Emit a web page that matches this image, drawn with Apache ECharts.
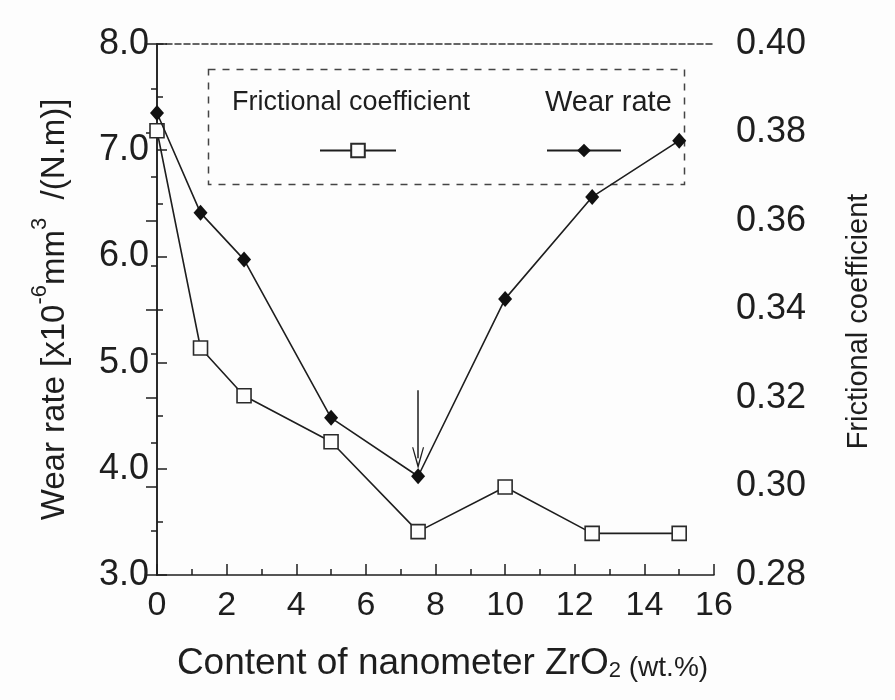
<!DOCTYPE html>
<html><head><meta charset="utf-8">
<script src="https://cdn.jsdelivr.net/npm/echarts@6/dist/echarts.min.js"></script>
<style>html,body{margin:0;padding:0;background:#fff}#c{width:895px;height:700px}</style>
</head><body><div id="c"></div>
<script>
// ---- data ----
const content = [0, 1.25, 2.5, 5, 7.5, 10, 12.5, 15];
const wearRate = [7.35, 6.41, 5.97, 4.48, 3.93, 5.60, 6.56, 7.09];
const frictionalCoefficient = [0.3804, 0.3313, 0.3205, 0.3101, 0.2898, 0.2999, 0.2894, 0.2894];
const xTickLabels = ['0', '2', '4', '6', '8', '10', '12', '14', '16'];
const wearTickLabels = ['3.0', '4.0', '5.0', '6.0', '7.0', '8.0'];
const frictionTickLabels = ['0.28', '0.30', '0.32', '0.34', '0.36', '0.38', '0.40'];
const arrowContent = 7.5;
const arrowFrom = 4.74;
const arrowTo = 4.10;
const legendNames = ['Frictional coefficient', 'Wear rate'];

const ink = '#1e1e1e';
const font = 'Liberation Sans, Arial, sans-serif';
const chart = echarts.init(document.getElementById('c'), null, {renderer: 'canvas'});

const wearData = content.map((x, i) => [x, wearRate[i]]);
const fricData = content.map((x, i) => [x, frictionalCoefficient[i]]);

const option = {
  backgroundColor: '#fdfdfd',
  animation: false,
  grid: {left: 157, right: 181, top: 44, bottom: 125, containLabel: false},
  legend: [
    {data: [legendNames[0]], left: 314, top: 137, itemWidth: 76, itemHeight: 17, formatter: () => '', selectedMode: false},
    {data: [legendNames[1]], left: 541, top: 137, itemWidth: 74, itemHeight: 17, formatter: () => '', selectedMode: false}
  ],
  graphic: [
    {type: 'rect', left: 206, top: 67, shape: {width: 476, height: 115}, silent: true,
     style: {fill: 'none', stroke: '#444', lineWidth: 1.5, lineDash: [7, 7]}},
    {type: 'text', left: 232, top: 89, silent: true,
     style: {text: legendNames[0], font: '27px ' + font, fill: ink}},
    {type: 'text', left: 545, top: 88, silent: true,
     style: {text: legendNames[1], font: '29px ' + font, fill: ink}}
  ],
  xAxis: [
    {
      type: 'value', min: 0, max: 16, interval: 2, position: 'bottom',
      name: '{a|Content of nanometer ZrO}{s|2}{b| (wt.%)}',
      nameLocation: 'middle', nameGap: 67,
      nameTextStyle: {
        padding: [0, 0, 0, 14],
        rich: {
          a: {fontSize: 37, fontFamily: font, color: ink, lineHeight: 40, verticalAlign: 'bottom'},
          s: {fontSize: 22, fontFamily: font, color: ink, lineHeight: 22, verticalAlign: 'bottom'},
          b: {fontSize: 28, fontFamily: font, color: ink, lineHeight: 30, verticalAlign: 'bottom'}
        }
      },
      axisLine: {show: true, lineStyle: {color: ink, width: 1.5}},
      axisTick: {show: true, inside: true, length: 11, lineStyle: {color: ink, width: 1.5}},
      minorTick: {show: true, splitNumber: 2, length: 6, lineStyle: {color: ink, width: 1.5}},
      splitLine: {show: false},
      axisLabel: {fontSize: 34, fontFamily: font, color: ink, margin: 14,
        formatter: (v) => xTickLabels[Math.round(v / 2)]}
    },
    {
      type: 'value', min: 0, max: 16, interval: 2, position: 'top',
      axisLine: {show: true, lineStyle: {color: '#333', width: 1.5, type: [6, 3]}},
      axisTick: {show: false}, axisLabel: {show: false}, splitLine: {show: false}
    }
  ],
  yAxis: [
    {
      type: 'value', min: 3, max: 8, interval: 1, position: 'left',
      name: '{a|Wear rate [x10}{s|-6}{a|mm}{s|3}{a|  /(N.m)]}',
      nameLocation: 'middle', nameGap: 86, nameRotate: 90,
      nameTextStyle: {
        rich: {
          a: {fontSize: 33, fontFamily: font, color: ink, lineHeight: 42, verticalAlign: 'bottom'},
          s: {fontSize: 22, fontFamily: font, color: ink, lineHeight: 22, verticalAlign: 'top'}
        }
      },
      axisLine: {show: true, lineStyle: {color: ink, width: 1.5}},
      axisTick: {show: true, inside: true, length: 10, lineStyle: {color: ink, width: 1.5}},
      minorTick: {show: true, splitNumber: 2, length: 6, lineStyle: {color: ink, width: 1.5}},
      splitLine: {show: false},
      axisLabel: {fontSize: 36, fontFamily: font, color: ink, margin: 8, padding: [6, 0, 0, 0],
        formatter: (v) => wearTickLabels[Math.round(v - 3)]}
    },
    {
      type: 'value', min: 0.28, max: 0.40, interval: 0.02, position: 'right',
      name: 'Frictional coefficient',
      nameLocation: 'middle', nameGap: 130, nameRotate: 90,
      nameTextStyle: {fontSize: 29, fontFamily: font, color: ink, padding: [0, 24, 0, 0]},
      axisLine: {show: true, lineStyle: {color: ink, width: 1.5}},
      axisTick: {show: true, inside: true, length: 11, lineStyle: {color: ink, width: 1.5}},
      minorTick: {show: true, splitNumber: 2, length: 6, lineStyle: {color: ink, width: 1.5}},
      splitLine: {show: false},
      axisLabel: {fontSize: 36, fontFamily: font, color: ink, margin: 22, padding: [10, 0, 0, 0],
        formatter: (v) => frictionTickLabels[Math.round((v - 0.28) / 0.02)]}
    }
  ],
  series: [
    {
      name: legendNames[0], type: 'line', xAxisIndex: 0, yAxisIndex: 1, data: fricData,
      symbol: 'rect', symbolSize: 14, z: 3,
      lineStyle: {color: ink, width: 1.6},
      itemStyle: {color: '#fdfdfd', borderColor: '#2a2a2a', borderWidth: 1.6}
    },
    {
      name: legendNames[1], type: 'line', xAxisIndex: 0, yAxisIndex: 0, data: wearData,
      symbol: 'diamond', symbolSize: [14, 16], z: 4,
      lineStyle: {color: ink, width: 1.6},
      itemStyle: {color: '#111', borderColor: '#111', borderWidth: 0},
      markLine: {
        silent: true, animation: false,
        symbol: ['none', 'path://M0,12 L5,0 L10,12 L9,12 L5,3 L1,12 Z'],
        symbolSize: [12, 22],
        label: {show: false},
        lineStyle: {color: ink, width: 1.5, type: 'solid'},
        data: [[{coord: [arrowContent, arrowFrom]}, {coord: [arrowContent, arrowTo]}]]
      }
    }
  ]
};
chart.setOption(option);
</script></body></html>
